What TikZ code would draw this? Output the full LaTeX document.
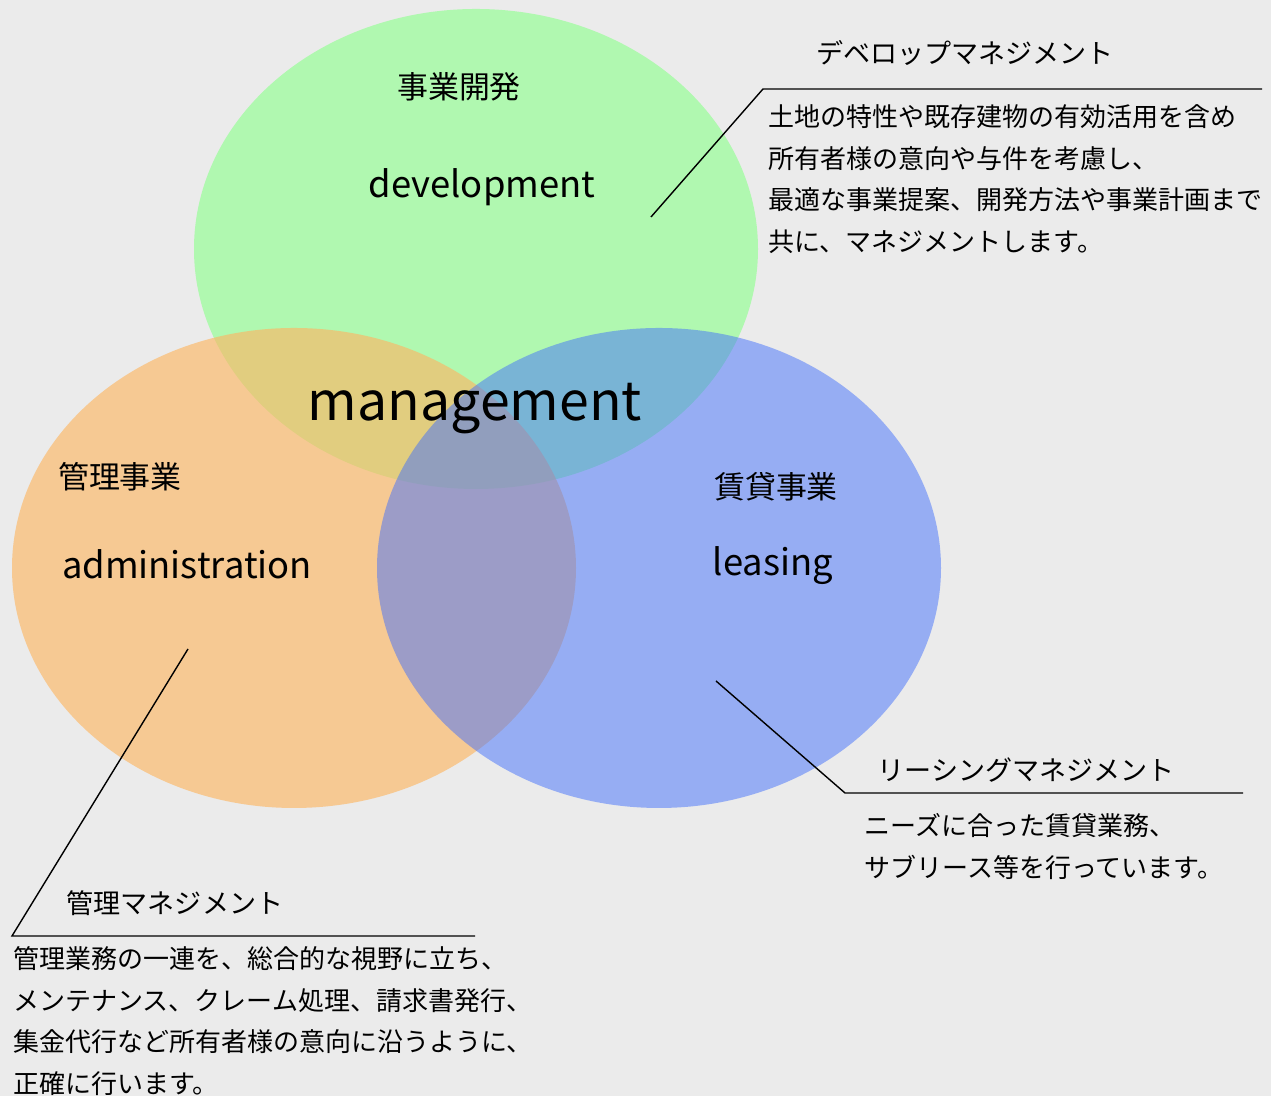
\documentclass[tikz,border=0pt]{standalone}
\usepackage{fontspec}
\setmainfont{Noto Sans CJK JP}
\definecolor{bggray}{HTML}{EBEBEB}
\definecolor{devgreen}{HTML}{B0F8B0}
\definecolor{admorange}{RGB}{252,183,101}
\definecolor{leasblue}{RGB}{67,113,251}
\tikzset{
  kanji/.style={inner sep=0pt,font=\fontsize{17.6}{20}\selectfont},
  latin/.style={inner sep=0pt,font=\fontsize{20.7}{24}\selectfont},
  bigword/.style={inner sep=0pt,font=\fontsize{30.5}{34}\selectfont},
  ttl/.style={inner sep=0pt,font=\fontsize{15.4}{18}\selectfont},
  desc/.style={inner sep=0pt,anchor=north west,align=left,font=\fontsize{14.8}{23.8}\selectfont},
  leader/.style={black,line width=0.8pt}
}
\begin{document}
\begin{tikzpicture}
\useasboundingbox (0,0) rectangle (25.42,21.92);
\fill[bggray] (0,0) rectangle (25.42,21.92);

%---------------------------------------------------
\fill[devgreen] (9.52,16.94) ellipse (5.64 and 4.80);
\fill[admorange,fill opacity=0.65] (5.88,10.56) ellipse (5.64 and 4.80);
\fill[leasblue,fill opacity=0.5] (13.18,10.56) ellipse (5.64 and 4.80);

%---------------------------------------------------
\node[kanji] (devjp) at (9.18,20.18) {事業開発};
\node[latin] (deven) at (9.64,18.18) {development};
\node[kanji] (admjp) at (2.40,12.38) {管理事業};
\node[latin] (admen) at (3.74,10.64) {administration};
\node[kanji] (leasjp) at (15.52,12.18) {賃貸事業};
\node[latin] (leasen) at (15.46,10.60) {leasing};
\node[bigword] (mgmt) at (9.50,13.74) {management};

%--------------------------------------------------
\coordinate (devpin) at (13.02,17.58);
\coordinate (devknee) at (15.26,20.14);
\coordinate (devend) at (25.24,20.14);
\draw[leader] (devpin) -- (devknee) -- (devend);
\node[ttl] (devttl) at (19.30,20.86) {デベロップマネジメント};
\node[desc] (devtxt) at (15.36,19.84) {土地の特性や既存建物の有効活用を含め\\
所有者様の意向や与件を考慮し、\\
最適な事業提案、開発方法や事業計画まで\\
共に、マネジメントします。};

%--------------------------------------------------
\coordinate (leaspin) at (14.32,8.30);
\coordinate (leasknee) at (16.90,6.06);
\coordinate (leasend) at (24.86,6.06);
\draw[leader] (leaspin) -- (leasknee) -- (leasend);
\node[ttl] (leasttl) at (20.52,6.52) {リーシングマネジメント};
\node[desc] (leastxt) at (17.28,5.66) {ニーズに合った賃貸業務、\\
サブリース等を行っています。};

%--------------------------------------------------
\coordinate (admpin) at (3.76,8.94);
\coordinate (admknee) at (0.24,3.20);
\coordinate (admend) at (9.50,3.20);
\draw[leader] (admpin) -- (admknee) -- (admend);
\node[ttl] (admttl) at (3.50,3.86) {管理マネジメント};
\node[desc] (admtxt) at (0.26,3.00) {管理業務の一連を、総合的な視野に立ち、\\
メンテナンス、クレーム処理、請求書発行、\\
集金代行など所有者様の意向に沿うように、\\
正確に行います。};
\end{tikzpicture}
\end{document}
